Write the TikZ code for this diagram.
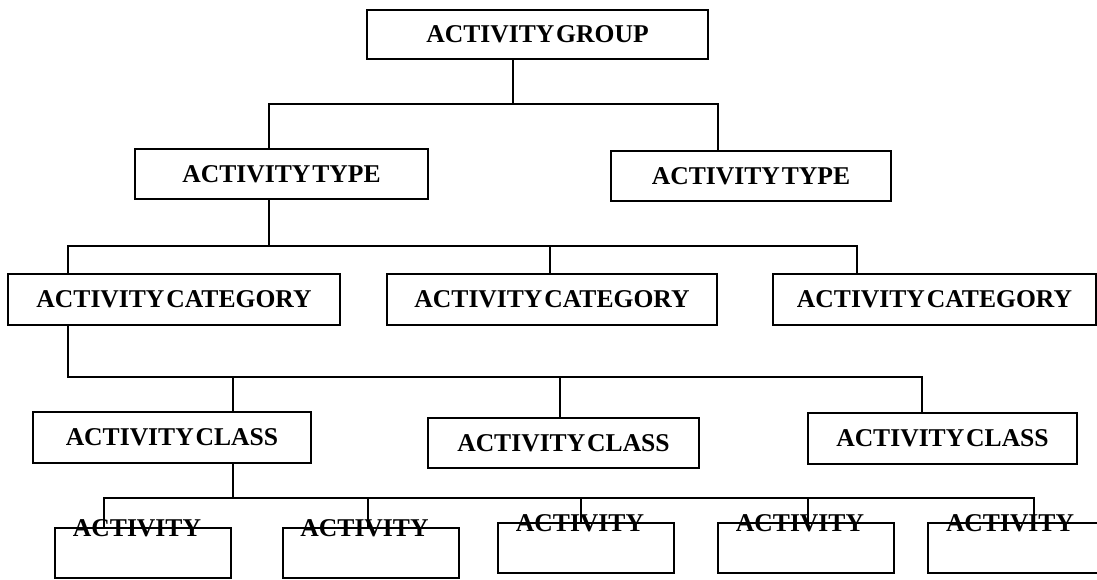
\documentclass[tikz,border=0pt]{standalone}
\usepackage{fontspec}
\setmainfont{Liberation Serif}[WordSpace=0.3]
\usepackage{tikz}
\usetikzlibrary{positioning,calc}

\begin{document}
\begin{tikzpicture}[x=1pt, y=-1pt,
      every node/.append style={font=\bfseries\fontsize{25.6}{30}\selectfont},
      box/.style={draw, line width=2pt, inner sep=0pt, minimum height=50pt},
      link/.style={line width=1.6pt}]
    \useasboundingbox (0,0) rectangle (1097,580);
    % group and types
    \node (group) [box, minimum width=341pt, minimum height=49pt] at (537.5,34.5) {ACTIVITY GROUP};
    \node (typeL) [box, minimum width=293pt] at (281.5,174) {ACTIVITY TYPE};
    \node (typeR) [box, minimum width=280pt] at (751,176) {ACTIVITY TYPE};
    % categories
    \node (cat1) [box, minimum width=332pt, minimum height=51pt] at (174,299.5) {ACTIVITY CATEGORY};
    \node (cat2) [box, minimum width=330pt, minimum height=51pt] at (552,299.5) {ACTIVITY CATEGORY};
    \node (cat3) [box, minimum width=323pt, minimum height=51pt] at (934.5,299.5) {ACTIVITY CATEGORY};
    % classes
    \node (class1) [box, minimum width=278pt, minimum height=51pt] at (172,437.5) {ACTIVITY CLASS};
    \node (class2) [box, minimum width=271pt] at (563.5,443) {ACTIVITY CLASS};
    \node (class3) [box, minimum width=269pt, minimum height=51pt] at (942.5,438.5) {ACTIVITY CLASS};
    % activities, label sits on the top edge
    \foreach \i/\x/\y in {1/143/553, 2/370.5/553, 3/586/548, 4/806/548, 5/1016/548} {
      \node (act\i) [box, minimum width=176pt] at (\x,\y) {};
      \node (actlabel\i) [anchor=base, inner sep=0pt] at ([xshift=-6pt,yshift=-9pt]act\i.north) {ACTIVITY};
    }

    % junctions
    \coordinate (j0) at (513,104);
    \coordinate (ja) at (269,104);
    \coordinate (jb) at (718,104);
    \coordinate (k0) at (269,246);
    \coordinate (k1) at (68,246);
    \coordinate (k2) at (550,246);
    \coordinate (k3) at (857,246);
    \coordinate (m1) at (68,377);
    \coordinate (m2) at (233,377);
    \coordinate (m3) at (560,377);
    \coordinate (m4) at (922,377);
    \coordinate (n0) at (233,498);
    \coordinate (n1) at (104,498);
    \coordinate (n2) at (368,498);
    \coordinate (n3) at (581,498);
    \coordinate (n4) at (808,498);
    \coordinate (n5) at (1034,498);

    \draw[link] (group.south -| j0) -- (j0);
    \draw[link] (typeL.north -| ja) -- (ja) -- (jb) -- (typeR.north -| jb);
    \draw[link] (typeL.south -| k0) -- (k0);
    \draw[link] (cat1.north -| k1) -- (k1) -- (k3) -- (cat3.north -| k3);
    \draw[link] (k2) -- (cat2.north -| k2);
    \draw[link] (cat1.south -| m1) -- (m1) -- (m4) -- (class3.north -| m4);
    \draw[link] (m2) -- (class1.north -| m2);
    \draw[link] (m3) -- (class2.north -| m3);
    \draw[link] (class1.south -| n0) -- (n0);
    \draw[link] (act1.north -| n1) -- (n1) -- (n5) -- (act5.north -| n5);
    \foreach \i in {2,3,4}
      \draw[link] (n\i) -- (act\i.north -| n\i);
\end{tikzpicture}
\end{document}
